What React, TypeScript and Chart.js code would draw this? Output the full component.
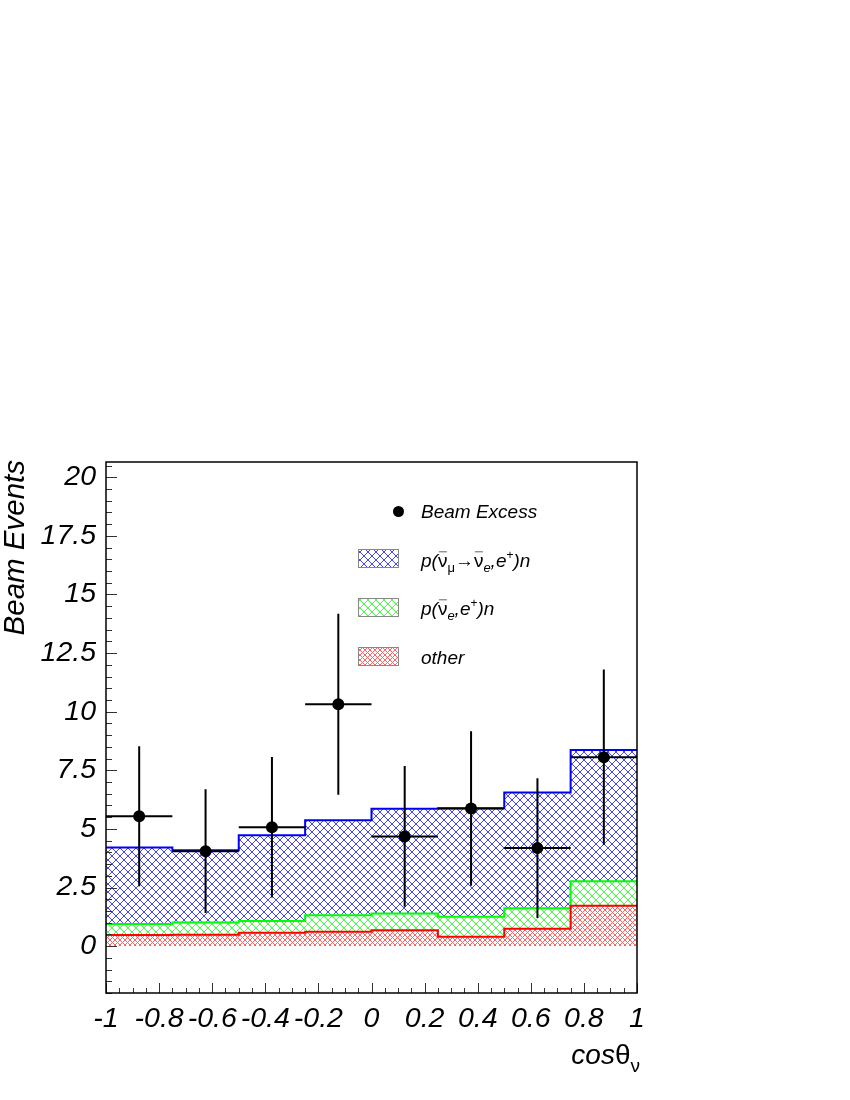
import React, { useEffect, useRef } from "react";
import { Chart, registerables } from "chart.js";

Chart.register(...registerables);

// ---------- data ----------
const binEdges = [-1, -0.75, -0.5, -0.25, 0, 0.25, 0.5, 0.75, 1];
const binCenters = [-0.875, -0.625, -0.375, -0.125, 0.125, 0.375, 0.625, 0.875];
// stacked histogram tops
const oscTop = [4.21, 4.09, 4.73, 5.37, 5.86, 5.88, 6.55, 8.36]; // p(nubar_mu -> nubar_e, e+)n (blue)
const nueTop = [0.94, 1.01, 1.07, 1.32, 1.39, 1.25, 1.61, 2.77]; // p(nubar_e, e+)n (green)
const otherTop = [0.47, 0.48, 0.57, 0.61, 0.68, 0.4, 0.74, 1.72]; // other (red)
const excess = [5.54, 4.05, 5.07, 10.32, 4.68, 5.87, 4.18, 8.06];
const excessErr = [2.99, 2.64, 3.0, 3.86, 3.0, 3.3, 2.98, 3.74];

const yTicks = [0, 2.5, 5, 7.5, 10, 12.5, 15, 17.5, 20];
const yTickLabels = ["0", "2.5", "5", "7.5", "10", "12.5", "15", "17.5", "20"];
const xTicks = [-1, -0.8, -0.6, -0.4, -0.2, 0, 0.2, 0.4, 0.6, 0.8, 1];
const xTickLabels = ["-1", "-0.8", "-0.6", "-0.4", "-0.2", "0", "0.2", "0.4", "0.6", "0.8", "1"];

const Y_MIN = -2;
const Y_MAX = 20.65;

const FONT = "'Liberation Sans', Arial, Helvetica, sans-serif";

const BLUE_HATCH = "#4646ff";
const GREEN_HATCH = "#46ff46";
const RED_HATCH = "#ff6464";

function steps(vals: number[]) {
  return binEdges.map((x, i) => ({ x, y: vals[Math.min(i, vals.length - 1)] }));
}

function hatch(color: string, p: number) {
  const c = document.createElement("canvas");
  c.width = p;
  c.height = p;
  const g = c.getContext("2d")!;
  g.fillStyle = color;
  for (let i = 0; i < p; i++) {
    g.fillRect(i, i, 1, 1);
    g.fillRect(p - 1 - i, i, 1, 1);
  }
  return g.createPattern(c, "repeat")!;
}

type Seg = { t: string; size: number; italic?: boolean; dy?: number; bar?: boolean };

function richWidth(ctx: CanvasRenderingContext2D, segs: Seg[]) {
  let w = 0;
  for (const s of segs) {
    ctx.font = `${s.italic ? "italic " : ""}${s.size}px ${FONT}`;
    w += ctx.measureText(s.t).width;
  }
  return w;
}

function drawRich(ctx: CanvasRenderingContext2D, x: number, base: number, segs: Seg[]) {
  let cx = x;
  ctx.textAlign = "left";
  ctx.textBaseline = "alphabetic";
  for (const s of segs) {
    ctx.font = `${s.italic ? "italic " : ""}${s.size}px ${FONT}`;
    const w = ctx.measureText(s.t).width;
    ctx.fillStyle = "#000";
    ctx.fillText(s.t, cx, base + (s.dy || 0));
    if (s.bar) {
      ctx.save();
      ctx.strokeStyle = "#666";
      ctx.lineWidth = 1;
      ctx.beginPath();
      ctx.moveTo(cx + 1, base - s.size * 0.8);
      ctx.lineTo(cx + w - 0.5, base - s.size * 0.8);
      ctx.stroke();
      ctx.restore();
    }
    cx += w;
  }
}

const decorPlugin = {
  id: "decor",
  afterDatasetsDraw(chart: any) {
    const ctx: CanvasRenderingContext2D = chart.ctx;
    const xs = chart.scales.x;
    const ys = chart.scales.y;
    ctx.save();
    ctx.strokeStyle = "#000";
    ctx.lineWidth = 2;
    ctx.lineCap = "butt";
    for (let i = 0; i < excess.length; i++) {
      const cx = xs.getPixelForValue(binCenters[i]);
      const cy = ys.getPixelForValue(excess[i]);
      ctx.beginPath();
      ctx.moveTo(cx, ys.getPixelForValue(excess[i] + excessErr[i]));
      ctx.lineTo(cx, ys.getPixelForValue(excess[i] - excessErr[i]));
      ctx.moveTo(xs.getPixelForValue(binEdges[i]), cy);
      ctx.lineTo(xs.getPixelForValue(binEdges[i + 1]), cy);
      ctx.stroke();
    }
    ctx.restore();
  },
  afterDraw(chart: any) {
    const ctx: CanvasRenderingContext2D = chart.ctx;
    const a = chart.chartArea;
    const xs = chart.scales.x;
    const ys = chart.scales.y;
    ctx.save();

    // minor + major ticks
    ctx.strokeStyle = "#333";
    ctx.lineWidth = 1;
    ctx.beginPath();
    for (let k = -4; k <= 41; k++) {
      const v = k * 0.5;
      if (v < Y_MIN || v > Y_MAX) continue;
      const py = Math.round(ys.getPixelForValue(v)) + 0.5;
      const major = yTicks.includes(v);
      ctx.moveTo(a.left, py);
      ctx.lineTo(a.left + (major ? 11 : 6), py);
    }
    for (let k = -20; k <= 20; k++) {
      const v = k * 0.05;
      const px = Math.round(xs.getPixelForValue(v)) + 0.5;
      const major = k % 4 === 0;
      ctx.moveTo(px, a.bottom);
      ctx.lineTo(px, a.bottom - (major ? 10 : 5));
    }
    ctx.stroke();

    // frame
    ctx.strokeStyle = "#000";
    ctx.lineWidth = 1.5;
    ctx.strokeRect(a.left, a.top, a.right - a.left, a.bottom - a.top);

    // y title
    ctx.save();
    ctx.translate(24, a.top - 2);
    ctx.rotate(-Math.PI / 2);
    ctx.font = `italic 29.5px ${FONT}`;
    ctx.fillStyle = "#000";
    ctx.textAlign = "right";
    ctx.textBaseline = "alphabetic";
    ctx.fillText("Beam Events", 0, 0);
    ctx.restore();

    // x title cosθν
    const xt: Seg[] = [
      { t: "cos", size: 28, italic: true },
      { t: "θ", size: 28 },
      { t: "ν", size: 19, dy: 8 },
    ];
    const w = richWidth(ctx, xt);
    drawRich(ctx, 640 - w, 1064, xt);

    // legend
    ctx.fillStyle = "#000";
    ctx.beginPath();
    ctx.arc(398.5, 511.5, 5.5, 0, Math.PI * 2);
    ctx.fill();
    drawRich(ctx, 421, 518, [{ t: "Beam Excess", size: 19, italic: true }]);

    const boxes = [
      { y: 549.5, pat: hatch(BLUE_HATCH, 8) },
      { y: 598.5, pat: hatch(GREEN_HATCH, 8) },
      { y: 647.5, pat: hatch(RED_HATCH, 5) },
    ];
    for (const b of boxes) {
      ctx.fillStyle = "#fff";
      ctx.fillRect(358.5, b.y, 40, 18);
      ctx.fillStyle = b.pat;
      ctx.fillRect(358.5, b.y, 40, 18);
      ctx.strokeStyle = "#888";
      ctx.lineWidth = 1;
      ctx.strokeRect(358.5, b.y, 40, 18);
    }
    drawRich(ctx, 421, 567, [
      { t: "p(", size: 19, italic: true },
      { t: "ν", size: 19, bar: true },
      { t: "μ", size: 13, dy: 5 },
      { t: "→", size: 19 },
      { t: "ν", size: 19, bar: true },
      { t: "e", size: 13, italic: true, dy: 5 },
      { t: ",", size: 19, italic: true },
      { t: "e", size: 19, italic: true },
      { t: "+", size: 12, dy: -8 },
      { t: ")n", size: 19, italic: true },
    ]);
    drawRich(ctx, 421, 615, [
      { t: "p(", size: 19, italic: true },
      { t: "ν", size: 19, bar: true },
      { t: "e", size: 13, italic: true, dy: 5 },
      { t: ",", size: 19, italic: true },
      { t: "e", size: 19, italic: true },
      { t: "+", size: 12, dy: -8 },
      { t: ")n", size: 19, italic: true },
    ]);
    drawRich(ctx, 421, 664, [{ t: "other", size: 19, italic: true }]);

    ctx.restore();
  },
};

export default function App() {
  const ref = useRef<HTMLCanvasElement | null>(null);

  useEffect(() => {
    const canvas = ref.current!;
    const tickFont = { family: FONT, size: 28.5, style: "italic" as const };
    const chart = new Chart(canvas, {
      type: "line",
      data: {
        datasets: [
          {
            label: "p(ν̄μ→ν̄e,e+)n",
            data: steps(oscTop),
            stepped: "before",
            borderColor: "#0000ff",
            borderWidth: 2,
            backgroundColor: hatch(BLUE_HATCH, 8),
            fill: "+1",
            pointRadius: 0,
            order: 3,
          },
          {
            label: "p(ν̄e,e+)n",
            data: steps(nueTop),
            stepped: "before",
            borderColor: "#00ff00",
            borderWidth: 2,
            backgroundColor: hatch(GREEN_HATCH, 8),
            fill: "+1",
            pointRadius: 0,
            order: 2,
          },
          {
            label: "other",
            data: steps(otherTop),
            stepped: "before",
            borderColor: "#ff0000",
            borderWidth: 2,
            backgroundColor: hatch(RED_HATCH, 5),
            fill: "origin",
            pointRadius: 0,
            order: 1,
          },
          {
            type: "scatter",
            label: "Beam Excess",
            data: binCenters.map((x, i) => ({ x, y: excess[i] })),
            pointRadius: 6,
            pointBackgroundColor: "#000",
            pointBorderWidth: 0,
            showLine: false,
            order: 0,
          } as any,
        ],
      },
      options: {
        responsive: false,
        animation: false,
        devicePixelRatio: 1,
        layout: { padding: { left: 0, top: 462, right: 213, bottom: 0 } },
        plugins: { legend: { display: false }, tooltip: { enabled: false } },
        scales: {
          x: {
            type: "linear",
            min: -1,
            max: 1,
            position: "bottom",
            grid: { display: false, drawTicks: false },
            border: { display: false },
            afterBuildTicks: (s: any) => {
              s.ticks = xTicks.map((v) => ({ value: v }));
            },
            afterFit: (s: any) => {
              s.height = 107;
            },
            ticks: {
              autoSkip: false,
              maxRotation: 0,
              minRotation: 0,
              padding: 9,
              color: "#000",
              font: tickFont,
              callback: (_v: any, i: number) => xTickLabels[i],
            },
          },
          y: {
            type: "linear",
            min: Y_MIN,
            max: Y_MAX,
            grid: { display: false, drawTicks: false },
            border: { display: false },
            afterBuildTicks: (s: any) => {
              s.ticks = yTicks.map((v) => ({ value: v }));
            },
            afterFit: (s: any) => {
              s.width = 106;
            },
            ticks: {
              autoSkip: false,
              padding: 10,
              color: "#000",
              font: tickFont,
              callback: (_v: any, i: number) => yTickLabels[i],
            },
          },
        },
      } as any,
      plugins: [decorPlugin],
    });
    return () => chart.destroy();
  }, []);

  return (
    <div style={{ position: "absolute", left: 0, top: 0, width: 850, height: 1100, background: "#fff" }}>
      <canvas ref={ref} width={850} height={1100} style={{ width: 850, height: 1100, display: "block" }} />
    </div>
  );
}
